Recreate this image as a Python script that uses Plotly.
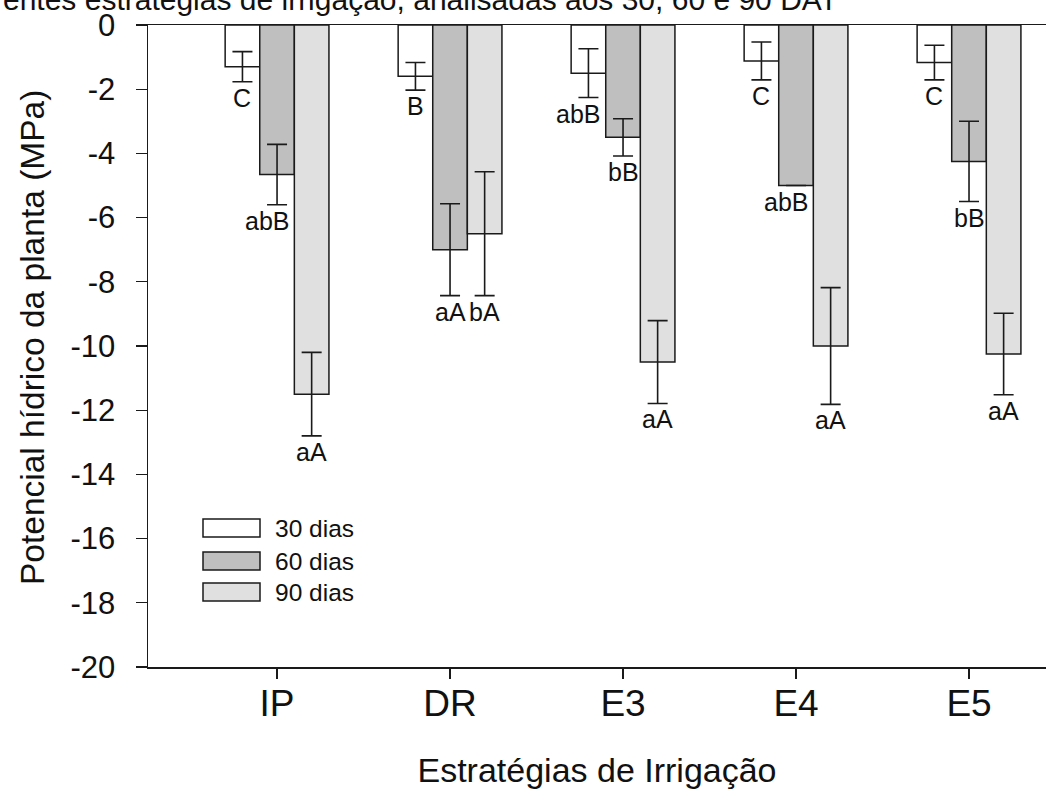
import plotly.graph_objects as go

# ---------------- data ----------------
categories = ["IP", "DR", "E3", "E4", "E5"]
series_names = ["30 dias", "60 dias", "90 dias"]

mean_30 = [-1.30, -1.60, -1.50, -1.12, -1.17]
mean_60 = [-4.66, -7.00, -3.50, -5.00, -4.25]
mean_90 = [-11.50, -6.50, -10.50, -10.00, -10.25]

err_30 = [0.47, 0.43, 0.76, 0.59, 0.54]
err_60 = [0.94, 1.43, 0.58, None, 1.25]
err_90 = [1.30, 1.93, 1.29, 1.82, 1.27]

letters_30 = ["C", "B", "abB", "C", "C"]
letters_60 = ["abB", "aA", "bB", "abB", "bB"]
letters_90 = ["aA", "bA", "aA", "aA", "aA"]

y_ticks = list(range(-20, 1, 2))

title_text = "Potencial hídrico da planta sob diferentes estratégias de irrigação, analisadas aos 30, 60 e 90 DAT"
x_title = "Estratégias de Irrigação"
y_title = "Potencial hídrico da planta (MPa)"

# ---------------- style ----------------
W, H = 1046, 794
L, R, T, B = 148, 0, 25, 127
FONT = "Arial, Liberation Sans, sans-serif"
colors = ["#ffffff", "#bfbfbf", "#e0e0e0"]
means = [mean_30, mean_60, mean_90]
errs = [err_30, err_60, err_90]
letters = [letters_30, letters_60, letters_90]
offsets = [-0.2, 0.0, 0.2]

xpos = list(range(len(categories)))

fig = go.Figure()
for name, m, e, c in zip(series_names, means, errs, colors):
    fig.add_trace(go.Bar(
        x=xpos, y=m, name=name,
        marker=dict(color=c, line=dict(color="#1a1a1a", width=1.5)),
        error_y=dict(type="data", array=e, symmetric=True, visible=True,
                     color="#1a1a1a", thickness=1.6, width=10),
        showlegend=False,
    ))

# significance letters below error bars
for s in range(3):
    for i in range(len(categories)):
        e = errs[s][i] or 0
        lab = letters[s][i]
        fig.add_annotation(
            x=xpos[i] + offsets[s], y=means[s][i] - e,
            xref="x", yref="y", text=lab, showarrow=False,
            yanchor="middle", yshift=-16,
            xshift=-10 if lab == "abB" else 0,
            font=dict(family=FONT, size=25, color="#111111"),
        )

# custom legend (boxes + text)
pw = W - L - R
ph = H - T - B
def px2paper_x(p):
    return (p - L) / pw
def px2paper_y(p):
    return (H - B - p) / ph

leg_tops = [519, 552, 583]
for k, (name, c) in enumerate(zip(series_names, colors)):
    y0 = leg_tops[k]
    fig.add_shape(type="rect", xref="paper", yref="paper",
                  x0=px2paper_x(203), x1=px2paper_x(260),
                  y0=px2paper_y(y0 + 18), y1=px2paper_y(y0),
                  fillcolor=c, line=dict(color="#1a1a1a", width=1.5))
    fig.add_annotation(xref="paper", yref="paper",
                       x=px2paper_x(273), y=px2paper_y(y0 + 9),
                       xanchor="left", yanchor="middle", showarrow=False,
                       text=name, font=dict(family=FONT, size=24.5, color="#111111"))

# caption at the very top (partly outside the page, as in the reference)
fig.add_annotation(xref="paper", yref="paper",
                   x=px2paper_x(840), y=1, xanchor="right", yanchor="bottom",
                   yshift=7, showarrow=False, text=title_text,
                   font=dict(family=FONT, size=30, color="#111111"))

# y-axis title as rotated annotation
fig.add_annotation(xref="paper", yref="paper",
                   x=px2paper_x(32), y=px2paper_y(338),
                   xanchor="center", yanchor="middle", textangle=-90,
                   showarrow=False, text=y_title,
                   font=dict(family=FONT, size=33.5, color="#111111"))

fig.update_layout(
    width=W, height=H,
    margin=dict(l=L, r=R, t=T, b=B, pad=0, autoexpand=False),
    paper_bgcolor="white", plot_bgcolor="white",
    barmode="group", bargap=0.4, bargroupgap=0,
    font=dict(family=FONT, color="#111111"),
)
fig.update_xaxes(
    range=[-0.746, 4.445], tickmode="array", tickvals=xpos, ticktext=categories,
    automargin=False,
    showline=True, linecolor="#1a1a1a", linewidth=1.5, mirror=True,
    ticks="outside", ticklen=10, tickwidth=1.2, tickcolor="#1a1a1a",
    tickfont=dict(family=FONT, size=37, color="#111111"),
    ticklabelstandoff=-7,
    showgrid=False, zeroline=False,
    title=dict(text=x_title, font=dict(family=FONT, size=34, color="#111111"), standoff=35),
)
fig.update_yaxes(
    range=[-20, 0], tickmode="array", tickvals=y_ticks, ticktext=[str(v) for v in y_ticks],
    automargin=False,
    showline=True, linecolor="#1a1a1a", linewidth=1.5,
    ticks="outside", ticklen=11, tickwidth=1.2, tickcolor="#1a1a1a",
    tickfont=dict(family=FONT, size=31, color="#111111"),
    ticklabelstandoff=14,
    showgrid=False, zeroline=False,
)

fig.write_html(
    "out.html",
    config={"staticPlot": True, "displayModeBar": False},
    post_script="document.body.style.margin='0';document.body.style.padding='0';document.body.style.overflow='hidden';",
)
